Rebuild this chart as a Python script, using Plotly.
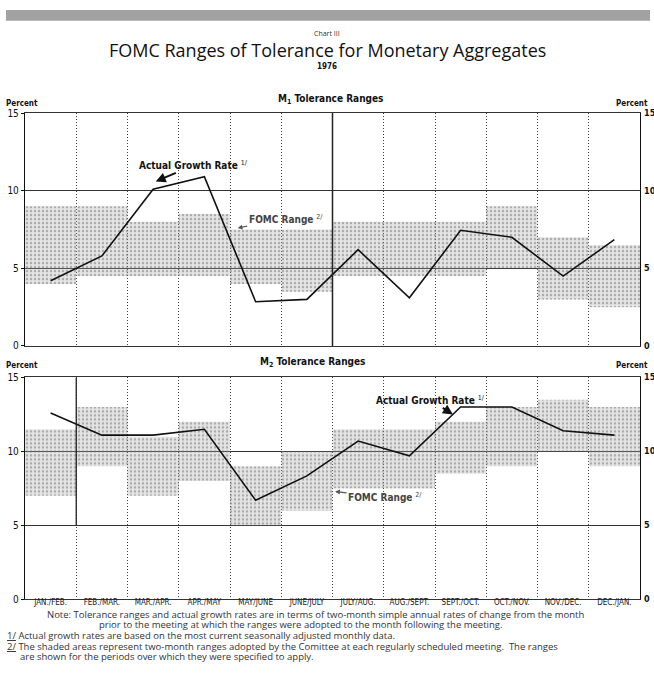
import plotly.graph_objects as go

categories = ["JAN./FEB.", "FEB./MAR.", "MAR./APR.", "APR./MAY", "MAY/JUNE", "JUNE/JULY",
              "JULY/AUG.", "AUG./SEPT.", "SEPT./OCT.", "OCT./NOV.", "NOV./DEC.", "DEC./JAN."]

m1_actual = [4.2, 5.8, 10.1, 10.9, 2.85, 3.0, 6.2, 3.1, 7.45, 7.0, 4.5, 6.85]
m1_low = [4.0, 4.5, 4.5, 4.5, 4.0, 3.5, 4.5, 4.5, 4.5, 5.0, 3.0, 2.5]
m1_high = [9.0, 9.0, 8.0, 8.5, 7.5, 7.5, 8.0, 8.0, 8.0, 9.0, 7.0, 6.5]

m2_actual = [12.6, 11.1, 11.1, 11.5, 6.7, 8.35, 10.7, 9.7, 13.0, 13.0, 11.4, 11.1]
m2_low = [7.0, 9.0, 7.0, 8.0, 5.0, 6.0, 7.5, 7.5, 8.5, 9.0, 10.0, 9.0]
m2_high = [11.5, 13.0, 11.0, 12.0, 9.0, 10.0, 11.5, 11.5, 12.0, 13.0, 13.5, 13.0]

y_ticks = [0, 5, 10, 15]

W, H = 654, 690
def px(x):
    return x / W
def py(y):
    return 1 - y / H

NARROW = "Liberation Sans Narrow, DejaVu Sans Condensed, Roboto, sans-serif"
GEO = "Open Sans, Lato, DejaVu Sans, sans-serif"

fig = go.Figure()

shade = dict(color="rgba(160,160,160,0.28)",
             line=dict(width=0),
             pattern=dict(shape=".", fgcolor="#707070", size=4, solidity=0.3))

for (lo, hi, act, xa, ya) in [(m1_low, m1_high, m1_actual, "x", "y"),
                               (m2_low, m2_high, m2_actual, "x2", "y2")]:
    fig.add_trace(go.Bar(x=categories, y=[h - l for l, h in zip(lo, hi)], base=lo,
                         width=1, marker=shade, xaxis=xa, yaxis=ya, showlegend=False,
                         hoverinfo="skip"))
    fig.add_trace(go.Scatter(x=categories, y=act, mode="lines",
                             line=dict(color="#111", width=1.6), xaxis=xa, yaxis=ya,
                             showlegend=False))

xdom = [px(25), px(640)]
m1_dom = [py(346), py(109)]
m2_dom = [py(604), py(378)]

xcommon = dict(type="category", range=[-0.5, 11.5], domain=xdom, tickson="boundaries",
               showgrid=True, gridcolor="#444", griddash="1px,2px", gridwidth=1,
               showline=True, linecolor="#333", linewidth=1, mirror=True,
               ticks="", zeroline=False)
ycommon = dict(range=[0, 15], tickvals=y_ticks, showgrid=True, gridcolor="#333",
               gridwidth=1, showline=True, linecolor="#111", linewidth=1.3, mirror=True,
               ticks="outside", ticklen=3, tickcolor="#111", zeroline=False,
               tickfont=dict(family=NARROW, size=10, color="#111"))

fig.update_layout(
    width=W, height=H, margin=dict(l=0, r=0, t=0, b=0),
    paper_bgcolor="white", plot_bgcolor="white", barmode="overlay",
    xaxis=dict(**xcommon, anchor="y", showticklabels=False),
    yaxis=dict(**ycommon, domain=m1_dom, anchor="x"),
    xaxis2=dict(**xcommon, anchor="y2", showticklabels=True, ticklabelstandoff=-5,
                tickangle=0, tickfont=dict(family=NARROW, size=8, color="#222")),
    yaxis2=dict(**ycommon, domain=m2_dom, anchor="x2"),
)

# header band
fig.add_shape(type="rect", xref="paper", yref="paper", x0=px(6), x1=px(650), y0=py(15), y1=py(4),
              fillcolor="#a2a2a2", line=dict(width=0))

# heavy vertical rules
fig.add_shape(type="line", xref="x", yref="y", x0=5.5, x1=5.5, y0=0, y1=15,
              line=dict(color="#222", width=1.5))
fig.add_shape(type="line", xref="x2", yref="y2", x0=0.5, x1=0.5, y0=5.0, y1=15,
              line=dict(color="#222", width=1.3))

ann = []
def text(x, y, s, size=9, family=GEO, xanchor="center", color="#111"):
    ann.append(dict(x=px(x), y=py(y), xref="paper", yref="paper", text=s, showarrow=False,
                    xanchor=xanchor, yanchor="middle", font=dict(family=family, size=size, color=color)))

text(327, 28, "Chart III", size=7, color="#333")
text(327, 45, "FOMC Ranges of Tolerance for Monetary Aggregates", size=18)
text(327, 62, "<b>1976</b>", size=8, family=NARROW)
text(330, 95, "<b>M<sub>1</sub> Tolerance Ranges</b>", size=10, family=NARROW)
text(312, 363, "<b>M<sub>2</sub> Tolerance Ranges</b>", size=10, family=NARROW)
text(4, 99, "<b>Percent</b>", size=8, family=NARROW, xanchor="left")
text(4, 366, "<b>Percent</b>", size=8, family=NARROW, xanchor="left")
text(650, 99, "<b>Percent</b>", size=8, family=NARROW, xanchor="right")
text(650, 366, "<b>Percent</b>", size=8, family=NARROW, xanchor="right")

# right-hand tick labels (mirror of the left axis)
for yr in ("y", "y2"):
    for t in y_ticks:
        ann.append(dict(x=px(642), xref="paper", y=t, yref=yr, text="<b>%d</b>" % t, showarrow=False,
                        xanchor="left", yanchor="middle", font=dict(family=NARROW, size=9, color="#111")))

# chart annotations
ann.append(dict(x=2.05, y=10.6, xref="x", yref="y", ax=38, ay=-16, text="<b>Actual Growth Rate</b> <sup>1/</sup>",
                showarrow=True, arrowhead=2, arrowsize=1, arrowwidth=2, arrowcolor="#111",
                font=dict(family=NARROW, size=10, color="#111")))
ann.append(dict(x=3.65, y=7.6, xref="x", yref="y", ax=48, ay=-9, text="<b>FOMC Range</b> <sup>2/</sup>",
                showarrow=True, arrowhead=2, arrowsize=0.8, arrowwidth=1.2, arrowcolor="#555",
                font=dict(family=NARROW, size=10, color="#444")))
ann.append(dict(x=7.85, y=12.5, xref="x2", yref="y2", ax=-22, ay=-14, text="<b>Actual Growth Rate</b> <sup>1/</sup>",
                showarrow=True, arrowhead=2, arrowsize=1, arrowwidth=2, arrowcolor="#111",
                font=dict(family=NARROW, size=10, color="#111")))
ann.append(dict(x=5.55, y=7.3, xref="x2", yref="y2", ax=50, ay=6, text="<b>FOMC Range</b> <sup>2/</sup>",
                showarrow=True, arrowhead=2, arrowsize=0.8, arrowwidth=1.2, arrowcolor="#555",
                font=dict(family=NARROW, size=10, color="#444")))

# notes
NF = 9.5
text(45, 619, "Note: Tolerance ranges and actual growth rates are in terms of two-month simple annual rates of change from the month", size=NF, xanchor="left", color="#333")
text(97, 629.5, "prior to the meeting at which the ranges were adopted to the month following the meeting.", size=NF, xanchor="left", color="#333")
text(5, 640.5, "<u>1/</u> Actual growth rates are based on the most current seasonally adjusted monthly data.", size=NF, xanchor="left", color="#333")
text(5, 651.5, "<u>2/</u> The shaded areas represent two-month ranges adopted by the Comittee at each regularly scheduled meeting.  The ranges", size=NF, xanchor="left", color="#333")
text(18, 662.5, "are shown for the periods over which they were specified to apply.", size=NF, xanchor="left", color="#333")

fig.update_layout(annotations=ann)
fig.write_html("out.html", config={"displayModeBar": False},
               post_script=("document.body.style.margin='0';document.body.style.overflow='hidden';"
                            "var d=document.getElementById('{plot_id}');"
                            "d.style.position='fixed';d.style.top='0px';d.style.left='0px';"))
